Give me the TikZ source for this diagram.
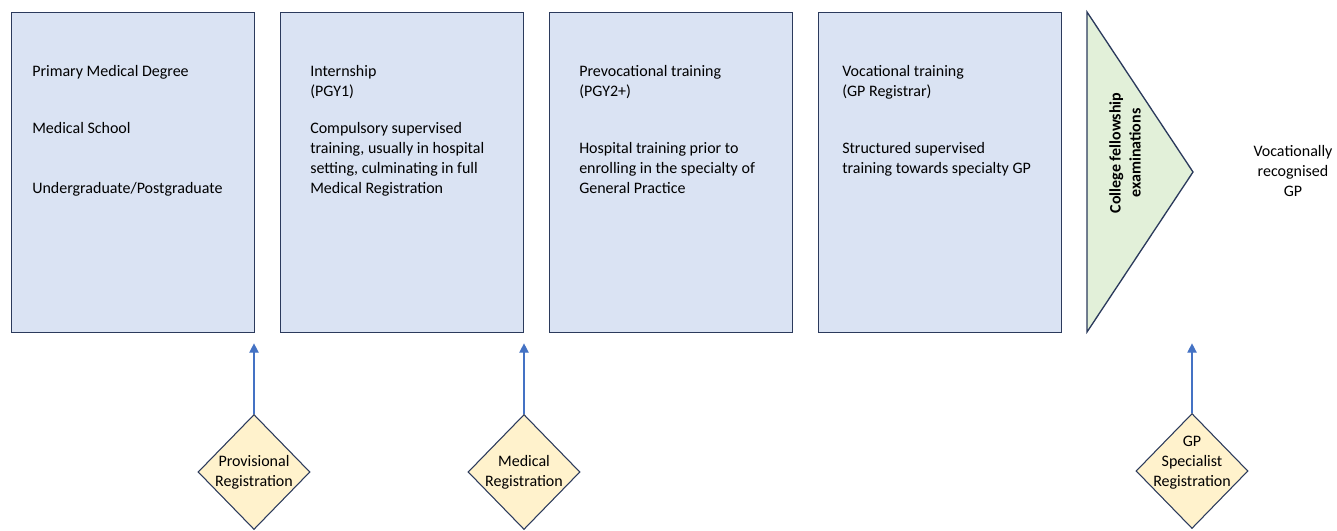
\documentclass[tikz,border=0pt]{standalone}
\usepackage{fontspec}
\setmainfont{Carlito}
\usetikzlibrary{shapes.geometric,arrows.meta}

\definecolor{stagefill}{HTML}{DAE3F3}
\definecolor{examfill}{HTML}{E2F0D9}
\definecolor{regfill}{HTML}{FFF2CC}
\definecolor{edgeline}{HTML}{2B3A5C}
\definecolor{arrowblue}{HTML}{4472C4}

\def\px{0.75pt}
\def\bw{243}
\def\bh{320}
\def\bstep{269}
\def\bx{11}
\def\by{12}

\tikzset{
  stagebox/.style={draw=edgeline, line width=1pt, fill=stagefill, anchor=north west,
    minimum width=\bw*\px, minimum height=\bh*\px, inner sep=0pt},
  stagetext/.style={anchor=north west, align=left, inner sep=0pt,
    font=\fontsize{12}{15}\selectfont},
  regbox/.style={diamond, draw=edgeline, line width=0.8pt, fill=regfill,
    minimum width=112*\px, minimum height=115*\px, inner sep=0pt},
  regtext/.style={align=center, inner sep=0pt, font=\fontsize{12}{15}\selectfont},
  regarrow/.style={draw=arrowblue, line width=1pt, shorten >=7.5pt,
    -{Triangle[length=7pt,width=7pt]}}
}

\begin{document}
\begin{tikzpicture}[x=\px, y=-\px]
    \useasboundingbox (0,0) rectangle (1337,531);

    % training stages
    \node[stagebox] (stage1) at ({\bx},\by) {};
    \node[stagebox] (stage2) at ({\bx+\bstep},\by) {};
    \node[stagebox] (stage3) at ({\bx+2*\bstep},\by) {};
    \node[stagebox] (stage4) at ({\bx+3*\bstep},\by) {};

    \node[stagetext] (degree) at (32,65) {Primary Medical Degree\\[28pt]Medical School\\[30pt]Undergraduate/Postgraduate};
    \node[stagetext] (intern) at (310,65) {Internship\\(PGY1)\\[13pt]Compulsory supervised\\training, usually in hospital\\setting, culminating in full\\Medical Registration};
    \node[stagetext] (prevoc) at (579,65) {Prevocational training\\(PGY2+)\\[28pt]Hospital training prior to\\enrolling in the specialty of\\General Practice};
    \node[stagetext] (voc) at (842,65) {Vocational training\\(GP Registrar)\\[28pt]Structured supervised\\training towards specialty GP};

    % fellowship exams
    \draw[draw=edgeline, line width=1pt, fill=examfill, line join=miter] (1087,12) -- (1193,172) -- (1087,332) -- cycle;
    \node[regtext, rotate=90, font=\fontsize{12}{15}\selectfont\bfseries] (exams) at (1125,153) {College fellowship\\examinations};

    \node[regtext] (vrgp) at (1293,171) {Vocationally\\recognised\\GP};

    % registrations
    \node[regbox] (reg1) at (254,472) {};
    \node[regbox] (reg2) at (524,472) {};
    \node[regbox] (reg3) at (1192,471) {};

    \node[regtext] (reg1txt) at (254,472) {Provisional\\Registration};
    \node[regtext] (reg2txt) at (524,472) {Medical\\Registration};
    \node[regtext] (reg3txt) at (1192,463) {GP\\Specialist\\Registration};

    \draw[regarrow] (reg1.north) -- (reg1.north |- stage1.south);
    \draw[regarrow] (reg2.north) -- (reg2.north |- stage2.south);
    \draw[regarrow] (reg3.north) -- (reg3.north |- stage4.south);
\end{tikzpicture}
\end{document}
